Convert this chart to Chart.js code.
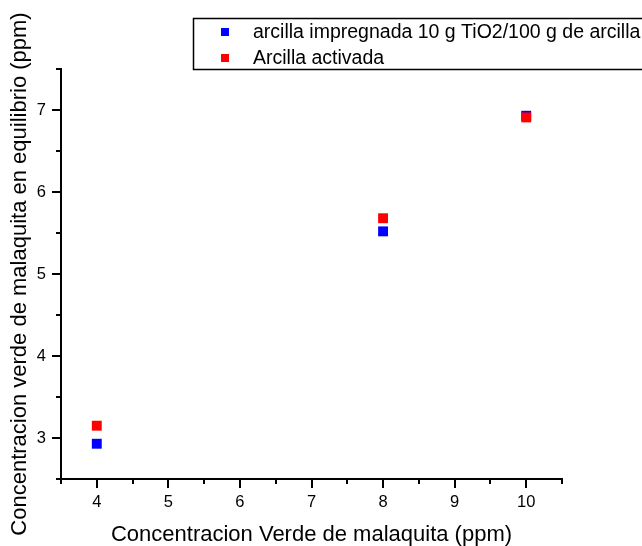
<!DOCTYPE html>
<html>
<head>
<meta charset="utf-8">
<script src="https://cdn.jsdelivr.net/npm/chart.js@4/dist/chart.umd.min.js"></script>
<style>
  html, body { margin: 0; padding: 0; background: #fff; }
  #wrap { width: 642px; height: 546px; }
</style>
</head>
<body>
<div id="wrap"><canvas id="c" width="642" height="546"></canvas></div>
<script>
// values
var xValues = [4, 8, 10]
var impregnada = [2.93, 5.52, 6.93]
var activada = [3.15, 5.68, 6.91]
var seriesNames = ['arcilla impregnada 10 g TiO2/100 g de arcilla', 'Arcilla activada']
var seriesColors = ['#0000ff', '#ff0000']
var xTitle = 'Concentracion Verde de malaquita (ppm)'
var yTitle = 'Concentracion verde de malaquita en equilibrio (ppm)'

var FONT = '"Liberation Sans", Arial, sans-serif'

function toPoints (ys) {
  return xValues.map(function (x, i) { return { x: x, y: ys[i] } })
}

// major/minor tick marks drawn outside the axes
var tickMarks = {
  id: 'tickMarks',
  afterDraw: function (chart) {
    var ctx = chart.ctx
    var area = chart.chartArea
    var xs = chart.scales.x
    var ys = chart.scales.y
    ctx.save()
    ctx.strokeStyle = '#000'
    ctx.lineWidth = 2
    ctx.beginPath()
    for (var v = xs.min; v <= xs.max + 1e-9; v += 0.5) {
      var px = Math.round(xs.getPixelForValue(v))
      var len = Math.abs(v - Math.round(v)) < 1e-6 ? 9 : 5
      ctx.moveTo(px, area.bottom)
      ctx.lineTo(px, area.bottom + len)
    }
    for (var w = ys.min; w <= ys.max + 1e-9; w += 0.5) {
      var py = Math.round(ys.getPixelForValue(w))
      var l2 = Math.abs(w - Math.round(w)) < 1e-6 ? 9 : 5
      ctx.moveTo(area.left, py)
      ctx.lineTo(area.left - l2, py)
    }
    ctx.stroke()
    ctx.restore()
  }
}

// boxed legend in the upper right, running off the edge like the original
var boxLegend = {
  id: 'boxLegend',
  afterDraw: function (chart) {
    var ctx = chart.ctx
    ctx.save()
    ctx.strokeStyle = '#000'
    ctx.lineWidth = 1.5
    ctx.strokeRect(193.5, 18.5, 500, 51)
    ctx.font = '19.5px ' + FONT
    ctx.textBaseline = 'middle'
    ctx.textAlign = 'left'
    var rows = [32, 58]
    seriesNames.forEach(function (name, i) {
      ctx.fillStyle = seriesColors[i]
      ctx.fillRect(221, rows[i] - 4, 8, 8)
      ctx.fillStyle = '#000'
      ctx.fillText(name, 253, rows[i] + 1)
    })
    ctx.restore()
  }
}

new Chart(document.getElementById('c'), {
  type: 'scatter',
  data: {
    datasets: [
      {
        label: seriesNames[0],
        data: toPoints(impregnada),
        backgroundColor: seriesColors[0],
        borderWidth: 0,
        pointStyle: 'rect',
        pointRadius: 7,
        pointHoverRadius: 7,
        order: 1
      },
      {
        label: seriesNames[1],
        data: toPoints(activada),
        backgroundColor: seriesColors[1],
        borderWidth: 0,
        pointStyle: 'rect',
        pointRadius: 7,
        pointHoverRadius: 7,
        order: 0
      }
    ]
  },
  options: {
    responsive: false,
    animation: false,
    layout: { padding: { top: 69, right: 80, left: 0, bottom: 0 } },
    plugins: {
      legend: { display: false },
      tooltip: { enabled: false }
    },
    scales: {
      x: {
        type: 'linear',
        min: 3.5,
        max: 10.5,
        afterFit: function (s) { s.height = 67 },
        grid: { display: false, drawTicks: false },
        border: { display: true, color: '#000', width: 2 },
        ticks: {
          stepSize: 0.5,
          padding: 14,
          color: '#000',
          font: { family: FONT, size: 16.5 },
          callback: function (v) { return Number.isInteger(v) ? String(v) : '' }
        },
        title: {
          display: true,
          text: xTitle,
          color: '#000',
          font: { family: FONT, size: 22, lineHeight: 1 },
          padding: { top: 0, bottom: 0 }
        }
      },
      y: {
        type: 'linear',
        min: 2.5,
        max: 7.5,
        afterFit: function (s) { s.width = 61 },
        grid: { display: false, drawTicks: false },
        border: { display: true, color: '#000', width: 2 },
        ticks: {
          stepSize: 0.5,
          padding: 15,
          color: '#000',
          font: { family: FONT, size: 16.5 },
          callback: function (v) { return Number.isInteger(v) ? String(v) : '' }
        },
        title: {
          display: true,
          text: yTitle,
          color: '#000',
          font: { family: FONT, size: 22 },
          padding: { top: 7, bottom: 0 }
        }
      }
    }
  },
  plugins: [tickMarks, boxLegend]
})
</script>
</body>
</html>
